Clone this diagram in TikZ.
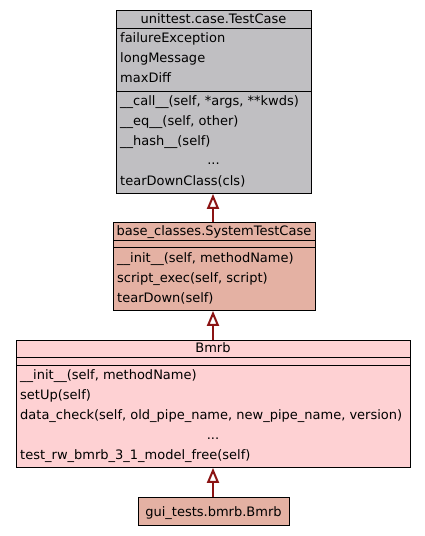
\documentclass[tikz,border=0pt]{standalone}
\usepackage{fontspec}
\setmainfont{DejaVu Sans}
\usetikzlibrary{arrows.meta}
\definecolor{boxgray}{RGB}{192,191,194}
\definecolor{boxsalmon}{RGB}{228,177,163}
\definecolor{boxpink}{RGB}{254,209,211}
\definecolor{edgered}{RGB}{139,20,20}
\tikzset{
  classbox/.style={draw=black, line width=0.9pt, anchor=north west, inner sep=0pt},
  sepline/.style={draw=black, line width=0.9pt},
  lbl/.style={anchor=base west, inner sep=0pt, font=\fontsize{13}{15}\selectfont},
  clbl/.style={anchor=base, inner sep=0pt, font=\fontsize{13}{15}\selectfont},
  inherit/.style={draw=edgered, line width=2pt, -{Triangle[open, length=15pt, width=12pt, line width=2pt]}}
}
\begin{document}
\begin{tikzpicture}[x=1pt, y=-1pt]
\useasboundingbox (0,0) rectangle (425,536);
% Box 1
\node[classbox, fill=boxgray, minimum width=195pt, minimum height=183pt] (tc) at (116,10) {};
\draw[sepline] (116,28.5) -- (311,28.5);
\draw[sepline] (116,91) -- (311,91);
\node[clbl] (tch) at (213.5,23.5) {unittest.case.TestCase};
\node[lbl] (tc1) at (120,42.8) {failureException};
\node[lbl] (tc2) at (120,62.8) {longMessage};
\node[lbl] (tc3) at (120,82.8) {maxDiff};
\node[lbl] (tc4) at (120,105.8) {\_\_call\_\_(self, *args, **kwds)};
\node[lbl] (tc5) at (120,125.8) {\_\_eq\_\_(self, other)};
\node[lbl] (tc6) at (120,145.8) {\_\_hash\_\_(self)};
\node[clbl] (tc7) at (213.5,164.8) {...};
\node[lbl] (tc8) at (120,185.8) {tearDownClass(cls)};
% Box 2
\node[classbox, fill=boxsalmon, minimum width=202pt, minimum height=88pt] (stc) at (113,222) {};
\draw[sepline] (113,240) -- (315,240);
\draw[sepline] (113,247) -- (315,247);
\node[clbl] (stch) at (214,235.5) {base\_classes.SystemTestCase};
\node[lbl] (stc1) at (117,262.8) {\_\_init\_\_(self, methodName)};
\node[lbl] (stc2) at (117,282.8) {script\_exec(self, script)};
\node[lbl] (stc3) at (117,302.8) {tearDown(self)};
% Box 3
\node[classbox, fill=boxpink, minimum width=394pt, minimum height=127pt] (bm) at (16,340) {};
\draw[sepline] (16,357) -- (410,357);
\draw[sepline] (16,365) -- (410,365);
\node[clbl] (bmh) at (213,352.5) {Bmrb};
\node[lbl] (bm1) at (20,379.8) {\_\_init\_\_(self, methodName)};
\node[lbl] (bm2) at (20,399.8) {setUp(self)};
\node[lbl] (bm3) at (20,419.8) {data\_check(self, old\_pipe\_name, new\_pipe\_name, version)};
\node[clbl] (bm4) at (213,439.8) {...};
\node[lbl] (bm5) at (20,459.8) {test\_rw\_bmrb\_3\_1\_model\_free(self)};
% Box 4
\node[classbox, fill=boxsalmon, minimum width=151pt, minimum height=28pt] (gb) at (138,497) {};
\node[clbl] (gbh) at (213.5,516) {gui\_tests.bmrb.Bmrb};
% Edges
\draw[inherit] (stc.north -| 213,0) -- (tc.south -| 213,0);
\draw[inherit] (bm.north -| 213,0) -- (stc.south -| 213,0);
\draw[inherit] (gb.north -| 213,0) -- (bm.south -| 213,0);
\end{tikzpicture}
\end{document}
